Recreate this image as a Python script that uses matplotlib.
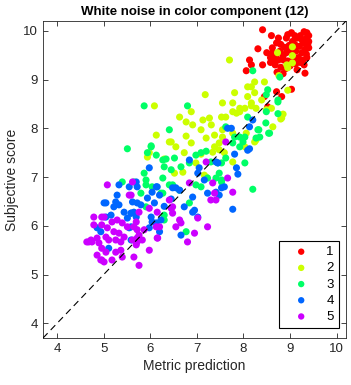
import matplotlib
matplotlib.use('Agg')
import matplotlib.pyplot as plt
import numpy as np

plt.rcParams['font.family'] = ['Liberation Sans', 'DejaVu Sans']

# (metric prediction, subjective score) per group
g1 = [(8.41,10.02),(8.60,9.90),(8.95,9.92),(9.03,9.96),(9.36,9.96),(9.30,9.98),(9.22,9.90),(9.15,9.85),
      (9.25,9.82),(9.35,9.85),(9.40,9.90),(9.28,9.75),(9.38,9.72),(9.40,9.65),(9.32,9.62),(9.20,9.68),
      (9.10,9.72),(9.05,9.78),(8.98,9.70),(8.88,9.66),(8.80,9.72),(8.71,9.75),(8.31,9.63),(8.62,9.55),
      (8.70,9.50),(8.78,9.58),(8.85,9.48),(8.92,9.55),(9.00,9.60),(9.12,9.58),(9.25,9.55),(9.35,9.52),
      (9.18,9.45),(9.08,9.42),(8.95,9.38),(8.86,9.40),(8.75,9.40),(8.65,9.42),(8.58,9.45),(8.58,9.35),
      (8.68,9.30),(8.80,9.25),(8.90,9.22),(9.00,9.28),(9.12,9.32),(9.22,9.35),(9.30,9.30),(9.28,9.40),
      (8.41,9.30),(8.13,9.40),(8.17,9.30),(8.06,9.18),(8.72,9.15),(8.85,9.12),(9.32,9.13),(9.15,9.20),
      (8.71,8.75),(8.82,8.65),(9.03,8.80),(8.45,8.65),(8.52,8.44),(9.40,9.78),(9.36,9.45),(8.92,9.85),
      (8.62,9.65),(8.75,9.85),(9.10,9.90),(8.50,9.55)]
g2 = [(7.70,9.40),(8.73,9.55),(9.05,9.67),(9.05,9.49),(8.93,9.30),(8.95,9.24),(9.05,9.34),(8.76,9.08),
      (8.95,8.78),(6.09,8.46),(7.18,8.69),(7.81,8.73),(8.09,8.85),(8.17,8.85),(8.24,8.73),(8.24,8.95),
      (8.45,8.95),(8.49,8.38),(8.39,8.58),(8.09,8.65),(6.63,8.23),(6.88,8.34),(6.77,8.13),(6.91,8.07),
      (7.13,8.17),(7.27,8.21),(7.31,8.07),(7.09,7.97),(7.53,8.23),(7.77,8.34),(7.92,8.41),(8.03,8.41),
      (8.17,8.52),(8.27,8.41),(7.55,8.52),(7.77,8.52),(8.17,8.46),(7.85,8.31),(7.92,8.34),(7.62,8.23),
      (8.60,8.41),(8.85,8.29),(8.80,8.19),(8.63,8.03),(8.82,8.21),(6.13,7.86),(6.41,7.72),(6.55,7.62),
      (6.88,7.70),(7.20,7.80),(7.38,7.86),(7.55,7.82),(7.38,7.62),(7.48,7.56),(7.59,7.50),(6.73,7.50),
      (6.98,7.29),(6.70,7.10),(7.16,7.04),(7.55,7.97),(7.77,7.90),(7.48,7.70),(8.24,7.72),(8.03,7.62),
      (7.77,7.31),(5.98,7.50),(5.94,7.41),(6.45,7.72),(6.77,7.84),(6.52,7.08),(7.20,7.00),(6.30,7.37),
      (8.27,7.76),(8.06,7.90),(7.09,7.47),(7.34,7.51)]
g3 = [(5.87,8.46),(6.80,8.46),(8.20,9.18),(8.78,9.05),(8.52,8.79),(8.49,8.69),(8.74,8.58),(8.74,8.54),
      (8.09,8.23),(8.49,8.34),(8.74,8.30),(8.48,8.11),(8.33,7.97),(8.54,7.90),(7.62,8.03),(7.81,7.82),
      (8.27,7.80),(7.99,7.72),(7.92,7.62),(7.62,7.39),(8.03,7.29),(7.53,7.29),(7.53,6.94),(8.20,6.75),
      (6.41,7.97),(6.02,7.62),(5.94,7.50),(6.13,7.45),(6.27,7.35),(6.52,7.39),(6.30,7.21),(6.45,7.15),
      (6.66,7.21),(6.84,7.29),(6.98,7.45),(7.09,7.50),(7.20,7.53),(7.30,7.31),(7.45,7.29),(5.87,7.08),
      (5.65,6.90),(5.91,6.94),(6.04,6.80),(6.27,6.98),(7.09,6.80),(7.23,6.98),(7.48,7.08),(7.53,6.90),
      (5.80,6.67),(5.91,6.84),(6.41,6.84),(6.27,6.67),(6.63,6.73),(6.84,6.47),(6.98,6.84),(6.30,6.12),
      (6.77,5.88),(5.51,7.58),(6.02,7.64),(5.40,6.90),(6.30,6.22),(5.91,6.39),(8.35,7.82),(8.56,7.90),
      (8.31,7.97),(7.92,7.82),(8.03,7.82),(7.77,7.70),(6.48,6.84),(6.23,6.67),(6.34,7.37),(7.41,6.98)]
g4 = [(7.74,8.00),(8.20,8.17),(8.13,8.03),(8.13,7.58),(7.81,7.47),(7.85,7.19),(7.88,7.06),(7.59,6.80),
      (7.48,6.63),(7.77,6.34),(5.98,7.19),(5.70,6.90),(6.84,7.35),(7.05,7.19),(7.02,7.08),(7.41,7.31),
      (7.66,8.00),(6.15,6.80),(6.55,6.78),(5.72,6.80),(5.62,6.49),(5.65,6.28),(5.59,6.26),(5.80,6.43),
      (5.94,6.57),(6.04,6.69),(6.13,6.80),(6.20,6.63),(6.09,6.47),(6.02,6.18),(6.04,6.08),(6.13,6.06),
      (6.23,6.12),(6.20,5.88),(5.98,5.96),(6.48,6.78),(6.91,6.28),(7.02,6.18),(7.23,6.67),(6.66,5.81),
      (5.59,5.98),(5.33,6.84),(5.29,6.63),(5.55,6.80),(5.05,6.47),(5.22,6.39),(5.33,6.43),(5.44,6.28),
      (5.16,6.22),(5.05,6.18),(5.59,6.26),(5.70,6.18),(5.51,6.16),(4.86,5.96),(4.94,5.88),(5.55,5.96),
      (5.59,5.71),(5.11,5.54),(5.72,6.47),(5.26,6.49),(5.01,6.47),(6.91,6.59),(6.95,6.32),(7.16,6.94),
      (7.41,6.69),(7.53,6.78),(6.63,6.73),(6.73,6.39),(7.45,7.29),(8.09,7.55),(6.30,6.40),(6.45,6.55)]
g5 = [(5.08,6.84),(5.55,6.63),(5.01,6.18),(4.79,6.02),(4.96,6.02),(5.08,5.96),(4.68,5.67),(4.75,5.67),
      (4.86,5.75),(4.90,5.65),(5.05,5.77),(5.11,5.71),(5.22,5.88),(5.33,5.85),(5.26,5.71),(5.37,5.67),
      (5.44,5.77),(5.29,6.12),(5.40,6.06),(5.51,5.98),(5.37,5.50),(5.26,5.46),(4.96,5.54),(5.05,5.46),
      (4.86,5.40),(4.96,5.30),(5.01,5.26),(5.18,5.30),(5.40,5.36),(5.65,5.36),(5.70,5.61),(5.72,5.75),
      (5.18,6.08),(5.59,6.63),(5.76,6.28),(5.70,6.08),(5.65,5.98),(5.72,5.92),(5.76,5.81),(5.87,5.92),
      (5.62,5.71),(5.72,5.67),(5.83,5.71),(5.98,5.50),(5.76,5.19),(6.15,5.75),(6.20,5.98),(6.48,6.26),
      (6.45,6.36),(6.41,6.53),(6.63,6.12),(6.66,6.06),(6.55,5.98),(6.80,5.67),(6.95,5.85),(7.23,5.98),
      (7.02,6.16),(6.84,6.88),(7.38,6.67),(7.30,6.53),(5.98,6.36),(6.15,6.28),(5.62,6.90),(7.20,7.31),
      (7.34,6.88),(7.41,6.53),(7.77,6.69),(7.66,6.98),(7.62,7.72),(6.48,6.39),(6.16,5.75),(6.13,5.98),
      (4.64,5.67),(4.73,5.71),(4.79,6.18),(4.96,6.18),(4.94,5.30)]

groups = [g1, g2, g3, g4, g5]
labels = ['1', '2', '3', '4', '5']
colors = ['#ff0000', '#ccff00', '#00ff66', '#0066ff', '#cc00ff']
lims = (3.7, 10.2)
ticks = [4, 5, 6, 7, 8, 9, 10]

fig = plt.figure(figsize=(3.51, 3.85), dpi=100)
ax = fig.add_axes([0.1225, 0.122, 0.8633, 0.8235])

for pts, lab, col in zip(groups, labels, colors):
    pts = np.array(pts)
    ax.scatter(pts[:, 0], pts[:, 1], s=26, c=col, edgecolors='none', label=lab, zorder=2)

ax.plot(lims, lims, color='k', linestyle=(0, (6, 4)), linewidth=0.8, zorder=3)

ax.set_xlim(lims)
ax.set_ylim(lims)
ax.set_xticks(ticks)
ax.set_yticks(ticks)
ax.tick_params(direction='in', top=True, right=True, length=3.5, width=0.6,
               labelsize=9.5, colors='#262626')
for sp in ax.spines.values():
    sp.set_linewidth(0.6)
    sp.set_color('#262626')

ax.set_xlabel('Metric prediction', fontsize=10, color='#262626', labelpad=3)
ax.set_ylabel('Subjective score', fontsize=10, color='#262626', labelpad=3)
ax.set_title('White noise in color component (12)', fontsize=9.5, fontweight='bold', pad=4)

leg = ax.legend(loc='lower right', bbox_to_anchor=(0.977, 0.031), borderaxespad=0,
                fancybox=False, framealpha=1, edgecolor='k', fontsize=9.5,
                handletextpad=0.65, labelspacing=0.3, borderpad=0.4,
                handlelength=2.5, markerscale=0.9)
leg.get_frame().set_linewidth(0.8)

fig.savefig('out.png', dpi=100)
